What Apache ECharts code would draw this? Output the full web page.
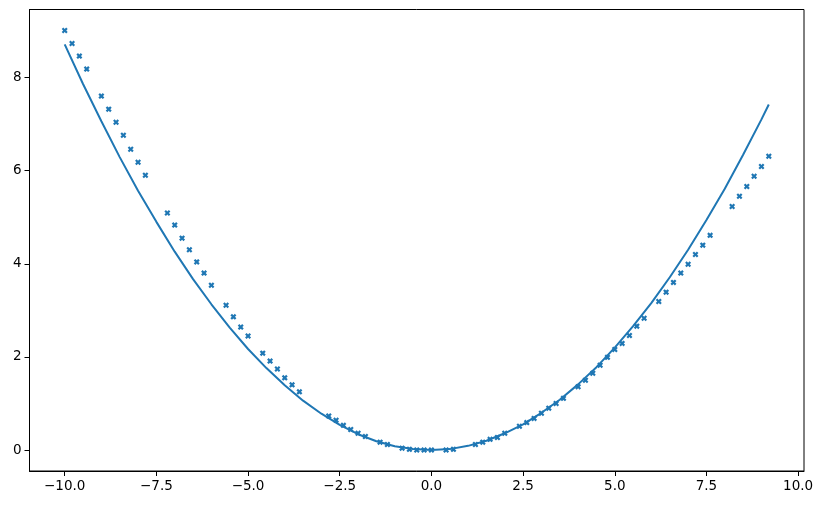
<!DOCTYPE html>
<html>
<head>
<meta charset="utf-8">
<script src="https://cdn.jsdelivr.net/npm/echarts@6/dist/echarts.min.js"></script>
<style>
  html, body { margin: 0; padding: 0; background: #fff; }
  #chart { width: 823px; height: 505px; }
</style>
</head>
<body>
<div id="chart"></div>
<script>
const BLUE = '#1f77b4';

// observed samples (x markers)
const sampleX = [
  -10.0, -9.8, -9.6, -9.4, -9.0, -8.8, -8.6, -8.4, -8.2, -8.0, -7.8,
  -7.2, -7.0, -6.8, -6.6, -6.4, -6.2, -6.0,
  -5.6, -5.4, -5.2, -5.0,
  -4.6, -4.4, -4.2, -4.0, -3.8, -3.6,
  -2.8, -2.6, -2.4, -2.2, -2.0, -1.8,
  -1.4, -1.2,
  -0.8, -0.6, -0.4, -0.2, 0.0,
  0.4, 0.6,
  1.2, 1.4, 1.6, 1.8, 2.0,
  2.4, 2.6, 2.8, 3.0, 3.2,
  3.4, 3.6, 4.0, 4.2, 4.4, 4.6, 4.8,
  5.0, 5.2, 5.4, 5.6, 5.8,
  6.2, 6.4, 6.6, 6.8, 7.0, 7.2, 7.4, 7.6,
  8.2, 8.4, 8.6, 8.8, 9.0, 9.2
];
const sampleY = [
  9.01, 8.73, 8.46, 8.18, 7.60, 7.32, 7.04, 6.76, 6.46, 6.18, 5.90,
  5.09, 4.83, 4.55, 4.30, 4.04, 3.80, 3.54,
  3.11, 2.86, 2.64, 2.45,
  2.08, 1.91, 1.74, 1.55, 1.40, 1.25,
  0.73, 0.64, 0.53, 0.44, 0.36, 0.29,
  0.17, 0.12,
  0.04, 0.015, 0.0, 0.0, 0.0,
  0.0, 0.015,
  0.12, 0.17, 0.23, 0.27, 0.36,
  0.51, 0.59, 0.68, 0.79, 0.90,
  1.00, 1.11, 1.36, 1.50, 1.65, 1.82, 1.99,
  2.16, 2.29, 2.46, 2.66, 2.83,
  3.19, 3.39, 3.60, 3.80, 3.99, 4.20, 4.40, 4.61,
  5.23, 5.45, 5.66, 5.88, 6.09, 6.31
];

// fitted curve
const fitX = [
  -10, -9.5, -9, -8.5, -8, -7.5, -7, -6.5, -6, -5.5, -5, -4.5, -4, -3.5, -3,
  -2.5, -2, -1.5, -1, -0.5, 0, 0.5, 1, 1.5, 2, 2.5, 3, 3.5, 4, 4.5, 5, 5.5,
  6, 6.5, 7, 7.5, 8, 8.5, 9, 9.2
];
const fitY = [
  8.71, 7.86, 7.06, 6.29, 5.57, 4.90, 4.26, 3.67, 3.13, 2.63, 2.17, 1.76, 1.39,
  1.06, 0.78, 0.54, 0.34, 0.19, 0.08, 0.02, 0.0, 0.02, 0.09, 0.20, 0.36, 0.55,
  0.80, 1.08, 1.41, 1.78, 2.20, 2.66, 3.16, 3.71, 4.30, 4.94, 5.61, 6.34, 7.10, 7.42
];

const xTicks = [-10, -7.5, -5, -2.5, 0, 2.5, 5, 7.5, 10];
const yTicks = [0, 2, 4, 6, 8];

const FONT = 'DejaVu Sans';
// chunky "x" marker like matplotlib's marker='x' at small size
const X_MARK = 'path://M0,2.6 L2.6,0 L5,2.4 L7.4,0 L10,2.6 L7.6,5 L10,7.4 L7.4,10 L5,7.6 L2.6,10 L0,7.4 L2.4,5 Z';

const minus = s => s.replace('-', '\u2212');

const chart = echarts.init(document.getElementById('chart'), null, { renderer: 'canvas' });

chart.setOption({
  animation: false,
  grid: {
    left: 29.5, right: 19, top: 9.5, bottom: 34,
    show: true, borderColor: '#000', borderWidth: 1, backgroundColor: '#fff'
  },
  xAxis: {
    type: 'value',
    min: -10.96,
    max: 10.16,
    splitLine: { show: false },
    axisLine: { show: true, onZero: false, lineStyle: { color: '#000', width: 1 } },
    axisTick: { show: true, length: 5, lineStyle: { color: '#000' }, customValues: xTicks },
    axisLabel: {
      customValues: xTicks,
      margin: 8,
      color: '#000',
      fontFamily: FONT,
      fontSize: 13.5,
      formatter: v => minus(v.toFixed(1))
    }
  },
  yAxis: {
    type: 'value',
    min: -0.45,
    max: 9.46,
    splitLine: { show: false },
    axisLine: { show: true, onZero: false, lineStyle: { color: '#000', width: 1 } },
    axisTick: { show: true, length: 5, lineStyle: { color: '#000' }, customValues: yTicks },
    axisLabel: {
      customValues: yTicks,
      margin: 8,
      color: '#000',
      fontFamily: FONT,
      fontSize: 13.5,
      formatter: v => minus(String(v))
    }
  },
  series: [
    {
      type: 'scatter',
      symbol: X_MARK,
      symbolSize: 6,
      itemStyle: { color: BLUE, opacity: 1 },
      data: sampleX.map((x, i) => [x, sampleY[i]])
    },
    {
      type: 'line',
      showSymbol: false,
      smooth: false,
      lineStyle: { color: BLUE, width: 2 },
      data: fitX.map((x, i) => [x, fitY[i]])
    }
  ]
});
</script>
</body>
</html>
